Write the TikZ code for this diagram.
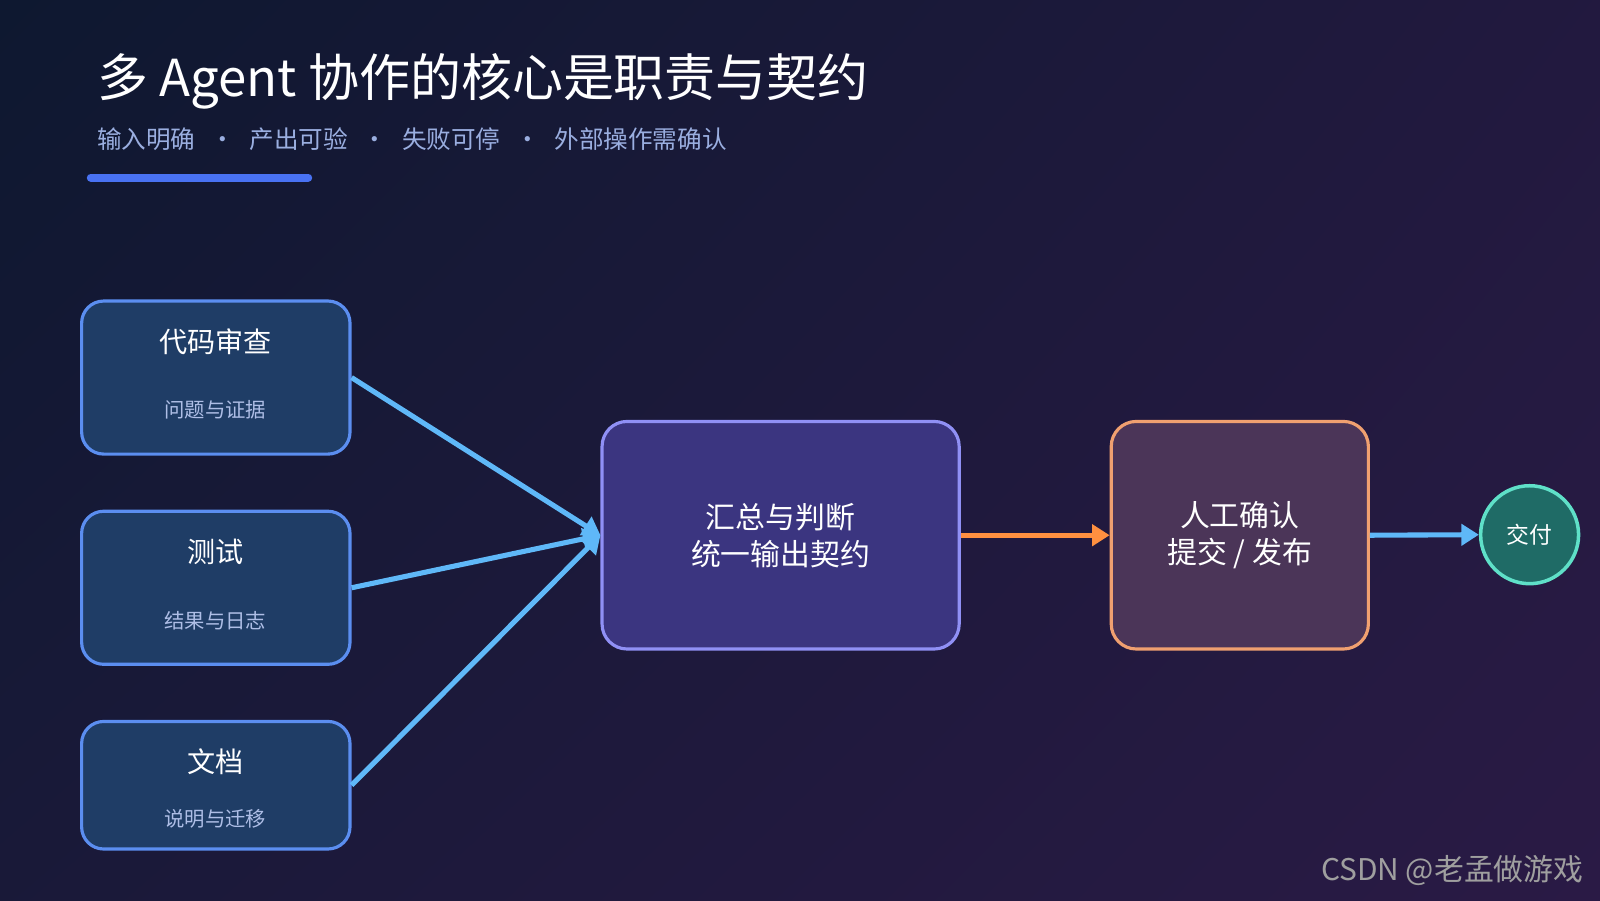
\documentclass[tikz,border=0pt]{standalone}
\usepackage{fontspec}
\setmainfont{Noto Sans CJK SC}
\usetikzlibrary{arrows.meta,shadings}
\definecolor{bgA}{HTML}{0E1830}
\definecolor{bgB}{HTML}{2A1A45}
\definecolor{boxf}{HTML}{1F3D66}
\definecolor{boxd}{HTML}{5B8EF0}
\definecolor{cenf}{HTML}{3B3580}
\definecolor{cend}{HTML}{9090F5}
\definecolor{humf}{HTML}{4B3558}
\definecolor{humd}{HTML}{F0A070}
\definecolor{delf}{HTML}{1F6B66}
\definecolor{deld}{HTML}{5FE0C8}
\definecolor{arrb}{HTML}{5FB8F8}
\definecolor{arro}{HTML}{FF9040}
\definecolor{subc}{HTML}{9AAEE0}
\newcommand{\gapdot}{\hspace{0.6em}·\hspace{0.6em}}
\begin{document}
\begin{tikzpicture}[x=0.010204cm,y=-0.010204cm,
  agent/.style={draw=boxd,fill=boxf,line width=0.9pt,rounded corners=0.22cm,minimum width=263*0.010204cm},
  ttl/.style={text=white,font=\fontsize{8}{9}\selectfont},
  sub/.style={text=subc!80!white,font=\fontsize{5.8}{7}\selectfont},
  big/.style={line width=0.9pt,rounded corners=0.25cm,text=white,align=center,font=\fontsize{8.5}{10.5}\selectfont},
  arr/.style={line width=1.45pt,-{Triangle[length=5pt,width=6pt]}}]
\useasboundingbox (0,0) rectangle (1568,882);
\shade[upper left=bgA,lower right=bgB,upper right=bgB!70!bgA,lower left=bgA!60!bgB] (0,0) rectangle (1568,882);
\node[anchor=west,text=white,font=\fontsize{14.5}{16}\selectfont] (title) at (83,80) {多 Agent 协作的核心是职责与契约};
\node[anchor=west,text=subc,font=\fontsize{7}{8}\selectfont] (subt) at (83,136) {输入明确\gapdot 产出可验\gapdot 失败可停\gapdot 外部操作需确认};
\draw[line width=2.3pt,line cap=round,color=boxd!80!blue] (89,174) -- (302,174);
\node[agent,minimum height=150*0.010204cm] (a1) at (211.5,370) {};
\node[ttl] at (211,335) {代码审查};
\node[sub] at (211,402) {问题与证据};
\node[agent,minimum height=150*0.010204cm] (a2) at (211.5,576) {};
\node[ttl] at (211,541) {测试};
\node[sub] at (211,608) {结果与日志};
\node[agent,minimum height=125*0.010204cm] (a3) at (211.5,769.5) {};
\node[ttl] at (211,746) {文档};
\node[sub] at (211,802) {说明与迁移};
\node[big,draw=cend,fill=cenf,minimum width=350*0.010204cm,minimum height=223*0.010204cm] (c) at (765,524.5) {汇总与判断\\统一输出契约};
\node[big,draw=humd,fill=humf,minimum width=252*0.010204cm,minimum height=223*0.010204cm] (h) at (1215,524.5) {人工确认\\提交 / 发布};
\node[circle,draw=deld,fill=delf,line width=1pt,minimum size=96*0.010204cm,inner sep=0pt,text=white,font=\fontsize{6.5}{8}\selectfont] (d) at (1499,524) {交付};
\draw[arr,arrb] (a1.east) -- (c.west);
\draw[arr,arrb] (a2.east) -- (c.west);
\draw[arr,arrb] (a3.east) -- (c.west);
\draw[arr,arro] (c.east) -- (h.west);
\draw[arr,arrb] (h.east) -- (d.west);
\node[anchor=east,text=gray!75!white,font=\fontsize{8.5}{10}\selectfont] (wm) at (1564,853) {CSDN @老孟做游戏};
\end{tikzpicture}
\end{document}
